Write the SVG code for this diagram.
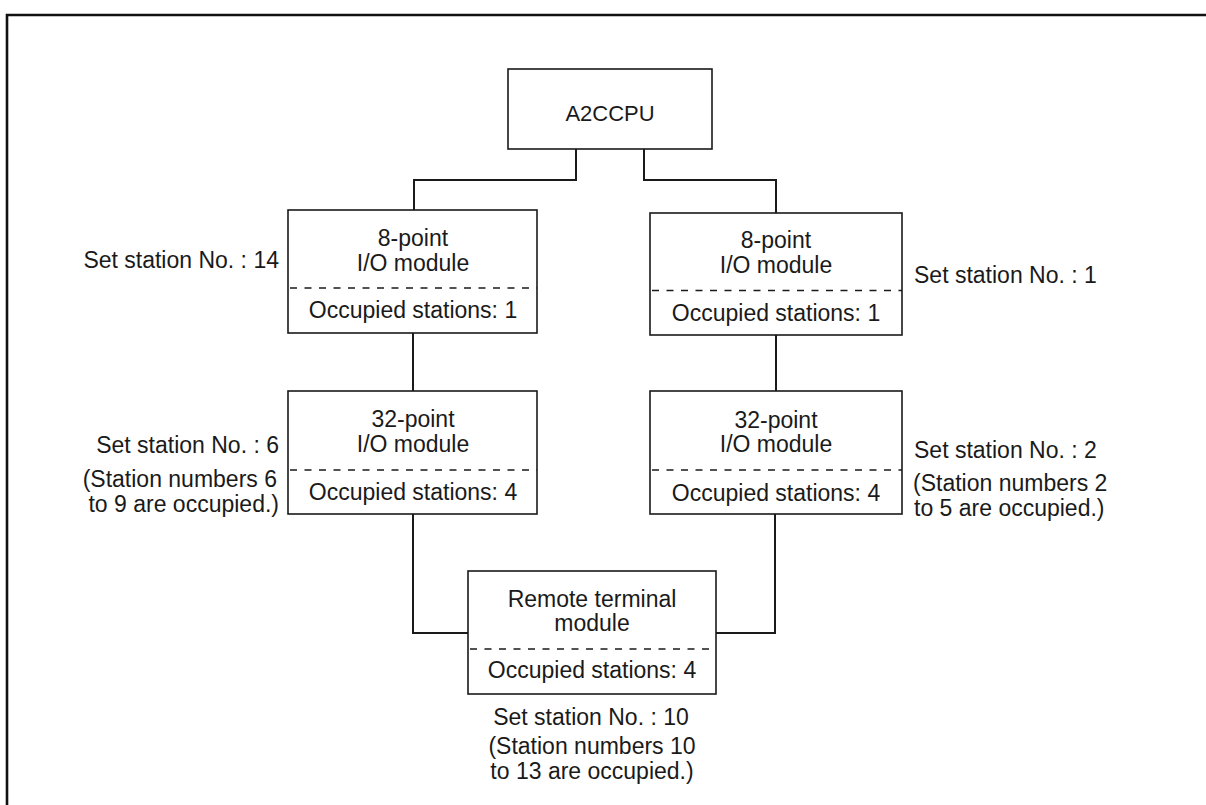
<svg xmlns="http://www.w3.org/2000/svg" width="1206" height="805" viewBox="0 0 1206 805">
<style>
.box{fill:#fff;stroke:#1a1a1a;stroke-width:1.6}
.dash{stroke:#1a1a1a;stroke-width:1.4;stroke-dasharray:7 7.5;fill:none}
.wire{fill:none;stroke:#1a1a1a;stroke-width:2}
.frame{fill:none;stroke:#111;stroke-width:2.6}
text{font-family:"Liberation Sans",Arial,sans-serif;font-size:23px;fill:#1a1a1a}
.c{text-anchor:middle}
.e{text-anchor:end}
</style>
<rect width="1206" height="805" fill="#fff"/>
<path class="frame" d="M7,805 V15 H1206"/>
<g id="connectors">
<path class="wire" d="M576,149 V180 H414 V210"/>
<path class="wire" d="M644,149 V180 H776 V213"/>
<path class="wire" d="M413,333 V391"/>
<path class="wire" d="M776,335 V391"/>
<path class="wire" d="M413,514 V633 H468"/>
<path class="wire" d="M775,514 V633 H716"/>
</g>
<g id="cpu">
<rect class="box" x="508" y="69" width="204" height="80"/>
<text class="c" x="610" y="121" style="font-size:22px">A2CCPU</text>
</g>
<g id="left8">
<rect class="box" x="288" y="210" width="249" height="123"/>
<line class="dash" x1="290" y1="288" x2="537" y2="288"/>
<text class="c" x="413" y="246">8-point</text>
<text class="c" x="413" y="271">I/O module</text>
<text class="c" x="413" y="318">Occupied stations: 1</text>
<text class="e" x="279" y="268">Set station No. : 14</text>
</g>
<g id="right8">
<rect class="box" x="650" y="213" width="252" height="122"/>
<line class="dash" x1="652" y1="290.5" x2="902" y2="290.5"/>
<text class="c" x="776" y="248">8-point</text>
<text class="c" x="776" y="272.5">I/O module</text>
<text class="c" x="776" y="320.5">Occupied stations: 1</text>
<text x="914" y="282.5">Set station No. : 1</text>
</g>
<g id="left32">
<rect class="box" x="288" y="391" width="249" height="123"/>
<line class="dash" x1="290" y1="470" x2="537" y2="470"/>
<text class="c" x="413" y="427">32-point</text>
<text class="c" x="413" y="451.5">I/O module</text>
<text class="c" x="413" y="500">Occupied stations: 4</text>
<text class="e" x="279" y="453">Set station No. : 6</text>
<text class="e" x="277" y="487">(Station numbers 6</text>
<text class="e" x="279" y="511.5">to 9 are occupied.)</text>
</g>
<g id="right32">
<rect class="box" x="650" y="391" width="252" height="123"/>
<line class="dash" x1="652" y1="470" x2="902" y2="470"/>
<text class="c" x="776" y="428">32-point</text>
<text class="c" x="776" y="451.5">I/O module</text>
<text class="c" x="776" y="500.5">Occupied stations: 4</text>
<text x="914" y="458">Set station No. : 2</text>
<text x="913" y="491">(Station numbers 2</text>
<text x="914" y="515.5">to 5 are occupied.)</text>
</g>
<g id="remote">
<rect class="box" x="468" y="571" width="248" height="123"/>
<line class="dash" x1="470" y1="649" x2="716" y2="649"/>
<text class="c" x="592" y="607">Remote terminal</text>
<text class="c" x="592" y="631">module</text>
<text class="c" x="592" y="678">Occupied stations: 4</text>
<text class="c" x="591" y="725">Set station No. : 10</text>
<text class="c" x="592" y="754">(Station numbers 10</text>
<text class="c" x="592" y="778.5">to 13 are occupied.)</text>
</g>
</svg>
